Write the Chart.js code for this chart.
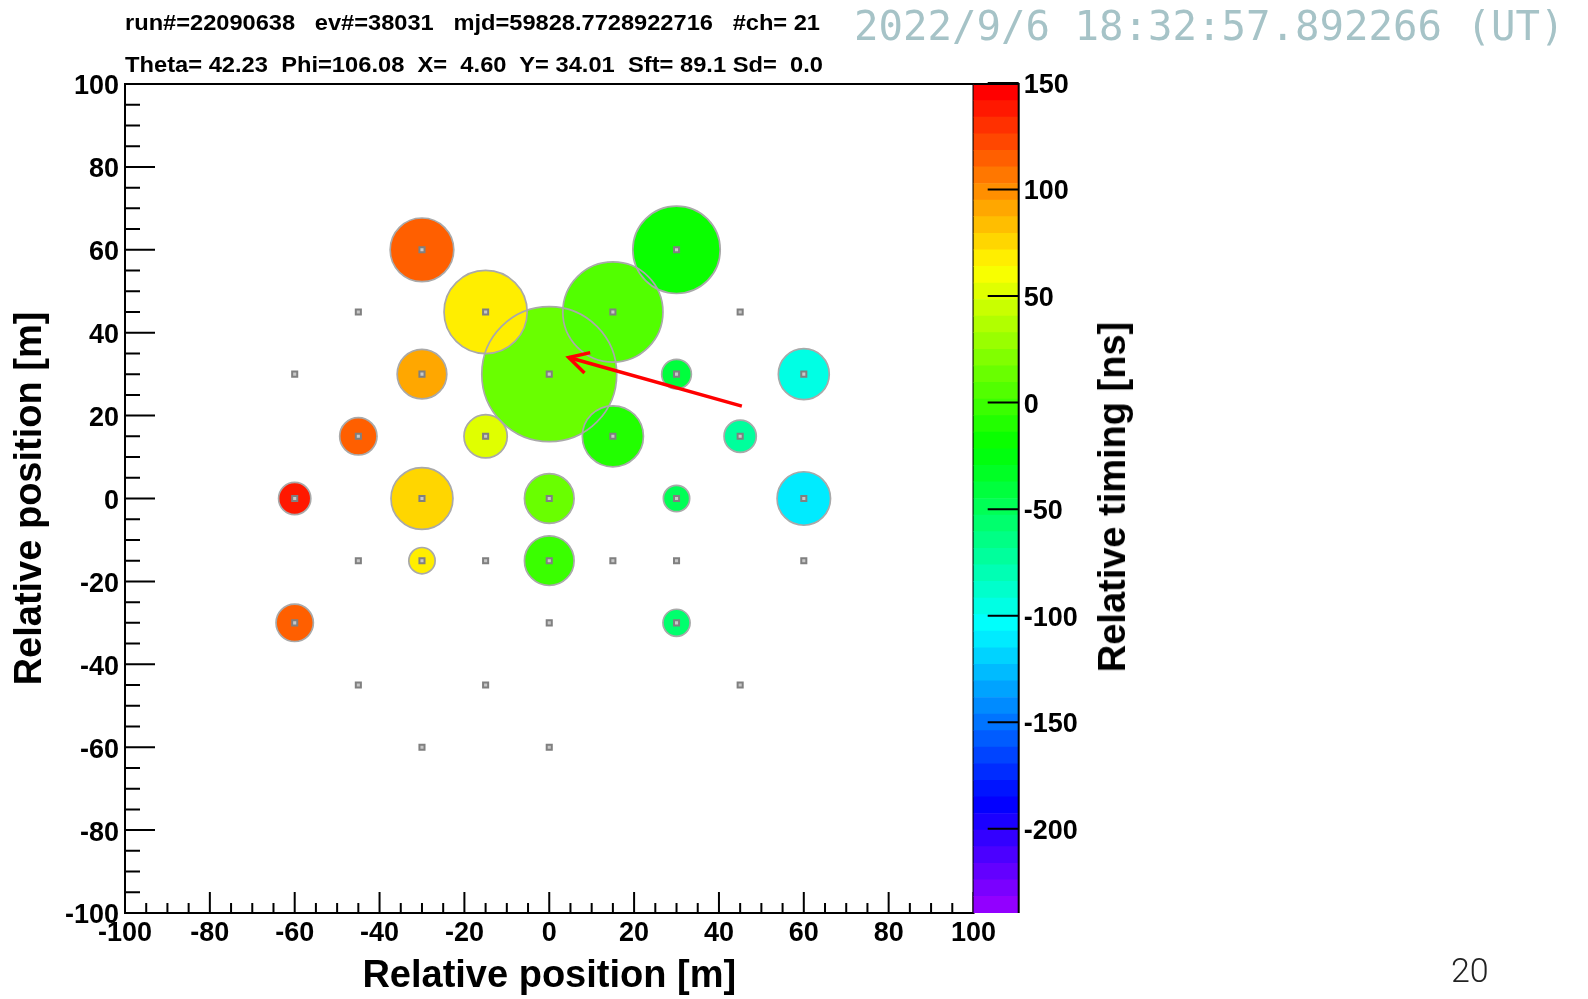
<!DOCTYPE html>
<html>
<head>
<meta charset="utf-8">
<script src="https://cdn.jsdelivr.net/npm/chart.js@4.4.1/dist/chart.umd.min.js"></script>
<style>
  body { margin: 0; background: #fff; }
  #page { position: relative; width: 1588px; height: 999px; overflow: hidden; font-family: "Liberation Sans", Arial, sans-serif; }
  canvas { position: absolute; left: 0; top: 0; }
  .hdr { position: absolute; left: 125px; font-size: 22px; line-height: 22px; font-weight: bold; white-space: pre; transform-origin: 0 0; color: #000; }
  #stamp { position: absolute; left: 854px; top: 5.5px; font-family: "DejaVu Sans Mono", monospace; font-size: 40.7px; line-height: 40.7px; color: #a6c3c7; white-space: pre; }
  #zTitle { position: absolute; left: 1112px; top: 497px; font-size: 38px; line-height: 38px; font-weight: bold; white-space: pre; transform: translate(-50%, -50%) rotate(-90deg); }
  #pageNo { position: absolute; left: 1451px; top: 953px; font-family: Roboto, "Noto Sans", sans-serif; font-weight: 300; font-size: 34px; line-height: 34px; color: #222; }
</style>
</head>
<body>
<div id="page">
  <canvas id="main" width="1588" height="999"></canvas>
  <canvas id="cbar" width="1588" height="999"></canvas>
  <div class="hdr fit" data-w="695" style="top:11.8px">run#=22090638   ev#=38031   mjd=59828.7728922716   #ch= 21</div>
  <div class="hdr fit" data-w="698" style="top:54.4px">Theta= 42.23  Phi=106.08  X=  4.60  Y= 34.01  Sft= 89.1 Sd=  0.0</div>
  <div id="stamp">2022/9/6 18:32:57.892266 (UT)</div>
  <div id="zTitle">Relative timing [ns]</div>
  <div id="pageNo">20</div>
</div>
<script>
// detector stations (grey squares), metres
const detX = [-30, 30,
              -45, -15, 15, 45,
              -60, -30, 0, 30, 60,
              -45, -15, 15, 45,
              -60, -30, 0, 30, 60,
              -45, -30, -15, 0, 15, 30, 60,
              -60, 0, 30,
              -45, -15, 45,
              -30, 0];
const detY = [60, 60,
              45, 45, 45, 45,
              30, 30, 30, 30, 30,
              15, 15, 15, 15,
              0, 0, 0, 0, 0,
              -15, -15, -15, -15, -15, -15, -15,
              -30, -30, -30,
              -45, -45, -45,
              -60, -60];

// hit stations: position, relative timing [ns], circle radius [m]
const hitX = [-30, 30, -15, 15, -30, 0, 30, 60, -45, -15, 15, 45, -60, -30, 0, 30, 60, -30, 0, -60, 30];
const hitY = [60, 60, 45, 45, 30, 30, 30, 30, 15, 15, 15, 15, 0, 0, 0, 0, 0, -15, -15, -30, -30];
const hitT = [114, -18, 68, 6, 91, 17, -41, -96, 114, 52, -10, -72, 138, 76, 13, -49, -111, 66, -2, 114, -57];
const hitR = [7.5, 10.3, 9.8, 11.8, 5.85, 15.9, 3.5, 6.0, 4.4, 5.1, 7.2, 3.8, 3.8, 7.3, 5.85, 3.1, 6.3, 3.1, 5.85, 4.4, 3.2];

// reconstructed core and arrow tail (arrow shows arrival direction)
const core = {x: 4.60, y: 34.01};
const tail = {x: 45.4, y: 22.3};

const xTicks = [-100, -80, -60, -40, -20, 0, 20, 40, 60, 80, 100];
const yTicks = [-100, -80, -60, -40, -20, 0, 20, 40, 60, 80, 100];
const zTicks = [-200, -150, -100, -50, 0, 50, 100, 150];
const zMin = -239.5;
const zMax = 149.5;
const nColors = 50;

Chart.defaults.font.family = '"Liberation Sans", Arial, sans-serif';
Chart.defaults.color = '#000';

function paletteColor(i) {
  const hue = i >= nColors - 1 ? 0 : 280 - (i + 1) * 280 / nColors;
  return 'hsl(' + hue + ',100%,50%)';
}

function colorFor(t) {
  let i = Math.floor((t - zMin) / (zMax - zMin) * nColors);
  i = Math.max(0, Math.min(nColors - 1, i));
  return paletteColor(i);
}

function radiusPx(ctx) {
  if (!ctx.raw) return 0;
  const x = ctx.chart.scales.x;
  const r = Math.abs(x.getPixelForValue(ctx.raw.rm) - x.getPixelForValue(0));
  return isFinite(r) ? r : 0;
}

// big circles first so small ones sit on top
const idx = hitR.map((r, i) => i).sort((a, b) => hitR[b] - hitR[a]);
const hits = idx.map(i => ({x: hitX[i], y: hitY[i], rm: hitR[i], t: hitT[i]}));
const stations = detX.map((x, i) => ({x: x, y: detY[i]}));

const tickFont = {size: 27, weight: 'bold'};
const titleFont = {size: 38, weight: 'bold'};

const rootFrame = {
  id: 'rootFrame',
  afterDatasetsDraw(chart) {
    const {ctx, chartArea: a, scales: {x, y}} = chart;
    ctx.save();
    ctx.strokeStyle = '#000';
    ctx.lineWidth = 2;
    ctx.strokeRect(a.left, a.top, a.right - a.left, a.bottom - a.top);
    ctx.beginPath();
    for (let v = -100; v <= 100; v += 5) {
      const major = v % 20 === 0;
      const px = x.getPixelForValue(v);
      ctx.moveTo(px, a.bottom);
      ctx.lineTo(px, a.bottom - (major ? 21 : 10));
      const py = y.getPixelForValue(v);
      ctx.moveTo(a.left, py);
      ctx.lineTo(a.left + (major ? 30 : 15), py);
    }
    ctx.stroke();

    // arrow head at the core
    const hx = x.getPixelForValue(core.x), hy = y.getPixelForValue(core.y);
    const tx = x.getPixelForValue(tail.x), ty = y.getPixelForValue(tail.y);
    const ang = Math.atan2(ty - hy, tx - hx);
    ctx.strokeStyle = '#ff0000';
    ctx.lineWidth = 3.5;
    ctx.beginPath();
    ctx.moveTo(hx + 22 * Math.cos(ang + 0.5), hy + 22 * Math.sin(ang + 0.5));
    ctx.lineTo(hx, hy);
    ctx.lineTo(hx + 22 * Math.cos(ang - 0.5), hy + 22 * Math.sin(ang - 0.5));
    ctx.stroke();
    ctx.restore();
  }
};

new Chart(document.getElementById('main'), {
  type: 'scatter',
  data: {
    datasets: [
      {label: 'direction', data: [tail, core], showLine: true,
       borderColor: '#ff0000', borderWidth: 3.5, pointRadius: 0, order: 0},
      {label: 'stations', data: stations, pointStyle: 'rect', pointRadius: 3.6,
       pointBackgroundColor: '#c8c8c8', pointBorderColor: '#808080', pointBorderWidth: 2, order: 1},
      {label: 'outline', data: hits, pointRadius: radiusPx, pointBackgroundColor: 'rgba(0,0,0,0)',
       pointBorderColor: '#a9a9a9', pointBorderWidth: 1.7, order: 2},
      {label: 'timing', data: hits, pointRadius: radiusPx,
       pointBackgroundColor: ctx => ctx.raw ? colorFor(ctx.raw.t) : '#000',
       pointBorderWidth: 0, pointBorderColor: 'rgba(0,0,0,0)', order: 3}
    ]
  },
  options: {
    responsive: false,
    animation: false,
    events: [],
    layout: {padding: {left: 0, top: 84, right: 614.5, bottom: 0}},
    plugins: {legend: {display: false}, tooltip: {enabled: false}},
    scales: {
      x: {
        type: 'linear', min: -100, max: 100,
        afterBuildTicks: s => { s.ticks = xTicks.map(v => ({value: v})); },
        afterFit: s => { s.height = 86; },
        grid: {display: false}, border: {display: false},
        ticks: {font: tickFont, padding: -4, maxRotation: 0, autoSkip: false},
        title: {display: true, text: 'Relative position [m]', font: titleFont, padding: {top: 3, bottom: 0}}
      },
      y: {
        type: 'linear', min: -100, max: 100,
        afterBuildTicks: s => { s.ticks = yTicks.map(v => ({value: v})); },
        afterFit: s => { s.width = 125; },
        grid: {display: false}, border: {display: false},
        ticks: {font: tickFont, padding: -2, labelOffset: 3, autoSkip: false},
        title: {display: true, text: 'Relative position [m]', font: titleFont, padding: {top: 8, bottom: 0}}
      }
    }
  },
  plugins: [rootFrame]
});

// colour scale
const step = (zMax - zMin) / nColors;
const bands = [];
for (let i = 0; i < nColors; i++) {
  bands.push({
    data: [[zMin + i * step, zMin + (i + 1) * step]],
    backgroundColor: paletteColor(i),
    borderWidth: 0, grouped: false, barPercentage: 1, categoryPercentage: 1
  });
}

const cbFrame = {
  id: 'cbFrame',
  afterDatasetsDraw(chart) {
    const {ctx, chartArea: a, scales: {y}} = chart;
    ctx.save();
    ctx.strokeStyle = '#000';
    ctx.lineWidth = 2;
    ctx.beginPath();
    ctx.moveTo(a.left, a.top);
    ctx.lineTo(a.right, a.top);
    ctx.lineTo(a.right, a.bottom);
    for (const v of zTicks) {
      const py = y.getPixelForValue(v);
      ctx.moveTo(a.right, py);
      ctx.lineTo(a.right - 31, py);
    }
    ctx.stroke();
    ctx.restore();
  }
};

new Chart(document.getElementById('cbar'), {
  type: 'bar',
  data: {labels: [''], datasets: bands},
  options: {
    responsive: false,
    animation: false,
    events: [],
    layout: {padding: {left: 973.5, top: 84, right: 449.3, bottom: 86}},
    plugins: {legend: {display: false}, tooltip: {enabled: false}},
    scales: {
      x: {display: false},
      y: {
        position: 'right', min: zMin, max: zMax,
        afterBuildTicks: s => { s.ticks = zTicks.map(v => ({value: v})); },
        afterFit: s => { s.width = 120; },
        grid: {display: false}, border: {display: false},
        ticks: {font: tickFont, padding: -3, labelOffset: 2.5, autoSkip: false}
      }
    }
  },
  plugins: [cbFrame]
});

// squeeze header lines to the width they have in the original
document.querySelectorAll('.fit').forEach(el => {
  const w = el.getBoundingClientRect().width;
  el.style.transform = 'scaleX(' + (parseFloat(el.dataset.w) / w) + ')';
});
</script>
</body>
</html>
